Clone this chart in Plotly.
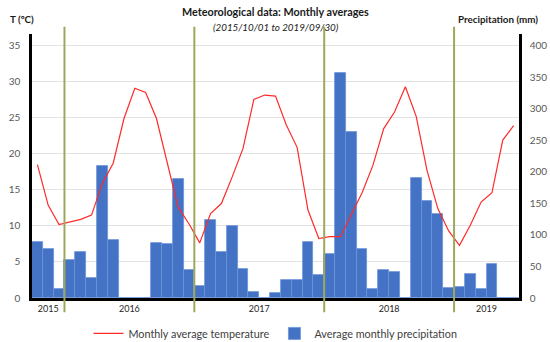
import plotly.graph_objects as go
import pandas as pd

# ---------------- data ----------------
months = pd.date_range("2015-10-01", periods=45, freq="MS").strftime("%Y-%m").tolist()

temperature = [18.5, 12.85, 10.2, 10.55, 10.9, 11.5, 15.9, 18.7, 24.9, 29.1, 28.5, 24.9,
               18.8, 12.6, 10.3, 7.65, 11.7, 13.1, 16.8, 20.75, 27.55, 28.15, 28.0, 24.0,
               20.9, 12.2, 8.25, 8.5, 8.5, 11.5, 14.6, 18.4, 23.5, 25.8, 29.3, 25.2,
               17.7, 12.4, 9.3, 7.3, 10.1, 13.3, 14.6, 21.9, 23.9]

precipitation = [88, 77, 14, 60, 72.5, 31, 208.5, 92.5, 0, 0, 0, 87,
                 85, 188, 45, 19.7, 124, 73, 114, 46, 10, 0, 8, 28,
                 28, 89, 36, 69, 357, 263.5, 77, 15, 44.5, 41, 0, 189.5,
                 153, 133, 16.5, 17.5, 38.7, 14, 53.5, 0, 0]

years = ["2015", "2016", "2017", "2018", "2019"]
temp_ticks = [0, 5, 10, 15, 20, 25, 30, 35]
precip_ticks = [0, 50, 100, 150, 200, 250, 300, 350, 400]

# ---------------- derived ----------------
x = list(range(len(months)))
year_of = [m[:4] for m in months]
centers = []
for y in years:
    idx = [i for i in x if year_of[i] == y]
    centers.append(sum(idx) / len(idx))
boundaries = [i - 0.5 for i in x[1:] if year_of[i] != year_of[i - 1]]

FONT = "Lato"
T_MAX = 36.62
P_MAX = T_MAX * 400 / 35

fig = go.Figure()
fig.add_bar(
    x=x, y=precipitation, name="Average monthly precipitation", yaxis="y",
    marker=dict(color="#4472C4", line=dict(color="#6B93D9", width=0.8)),
    legendrank=2,
)
fig.add_scatter(
    x=x, y=temperature, mode="lines", name="Monthly average temperature", yaxis="y2",
    line=dict(color="#FF2A2A", width=1.2), legendrank=1,
)

shapes = []
for b in boundaries:
    shapes.append(dict(type="line", xref="x", yref="paper", x0=b, x1=b,
                       y0=-0.054, y1=1.027, line=dict(color="#9DA85C", width=2),
                       layer="above"))

annotations = [
    dict(text="<b>Meteorological data: Monthly averages</b>", xref="paper", yref="paper",
         x=0.5, y=1.0846, xanchor="center", yanchor="middle", showarrow=False,
         font=dict(family=FONT, size=10.8, color="#1a1a1a")),
    dict(text="<i>(2015/10/01 to 2019/09/30)</i>", xref="paper", yref="paper",
         x=0.5, y=1.0277, xanchor="center", yanchor="middle", showarrow=False,
         font=dict(family=FONT, size=9.8, color="#1a1a1a")),
    dict(text="<b>T (ºC)</b>", xref="paper", yref="paper",
         x=-0.0487, y=1.055, xanchor="left", yanchor="middle", showarrow=False,
         font=dict(family=FONT, size=9.8, color="#1a1a1a")),
    dict(text="<b>Precipitation (mm)</b>", xref="paper", yref="paper",
         x=1.043, y=1.055, xanchor="right", yanchor="middle", showarrow=False,
         font=dict(family=FONT, size=9.8, color="#1a1a1a")),
]

fig.update_layout(
    template="none",
    width=550, height=342,
    margin=dict(l=32, r=31, t=34, b=44.3, pad=0, autoexpand=False),
    paper_bgcolor="white", plot_bgcolor="white",
    bargap=0,
    font=dict(family=FONT, color="#595959"),
    xaxis=dict(range=[-0.5, len(x) - 0.5], showgrid=False, zeroline=False,
               automargin=False,
               showline=True, linecolor="black", linewidth=2.5,
               tickvals=centers, ticktext=years, ticks="",
               tickfont=dict(family=FONT, size=9, color="#262626")),
    yaxis=dict(side="right", range=[0, P_MAX], tickvals=precip_ticks, automargin=False,
               showgrid=False, zeroline=False, showline=True, linecolor="black",
               linewidth=2.5, ticks="", ticklabelstandoff=6,
               tickfont=dict(family=FONT, size=10, color="#595959")),
    yaxis2=dict(side="left", overlaying="y", range=[0, T_MAX], tickvals=temp_ticks,
                automargin=False,
                showgrid=True, gridcolor="#E3E3E3", gridwidth=1, zeroline=False,
                showline=True, linecolor="black", linewidth=2.5, ticks="",
                ticklabelstandoff=7,
                tickfont=dict(family=FONT, size=10, color="#595959")),
    legend=dict(orientation="h", x=0.5, xanchor="center", y=-0.134, yanchor="middle",
                font=dict(family=FONT, size=10.8, color="#404040"),
                bgcolor="rgba(0,0,0,0)", itemwidth=30),
    shapes=shapes,
    annotations=annotations,
)

fig.write_html("out.html", config={"displayModeBar": False},
               post_script="document.body.style.margin='0';document.body.style.overflow='hidden';")
